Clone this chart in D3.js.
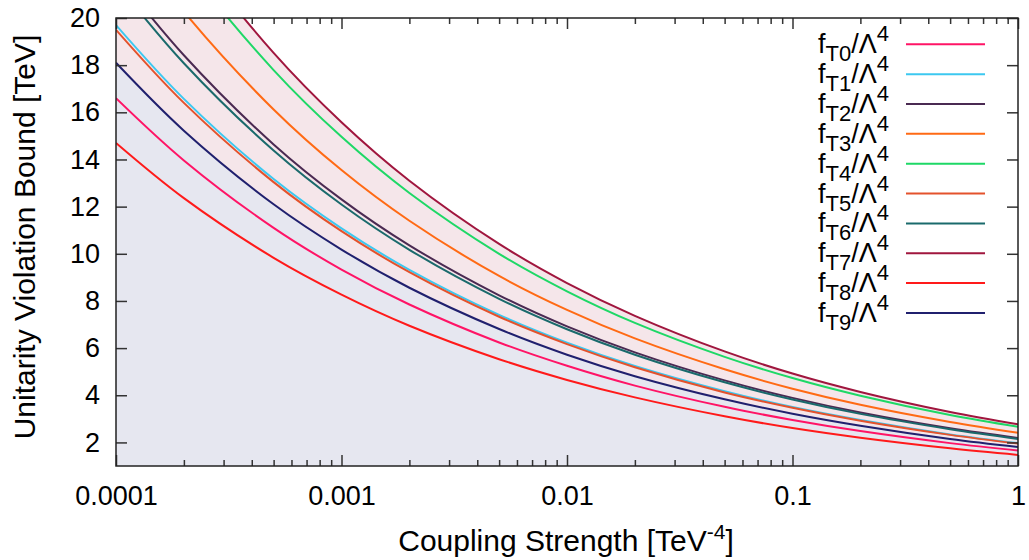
<html>
  <head>
    <style>
      body { margin: 0; background: #fff; }
      text { font-family: "Liberation Sans", Arial, sans-serif; fill: #000; }
    </style>
  </head>
  <body>
    <svg id="container" height="560" width="1029"></svg>
    <script src="https://cdn.jsdelivr.net/npm/d3@7"></script>
    <script>
      // coupling strength sample points [TeV^-4]
      let couplings = [1e-4, 2e-4, 5e-4, 1e-3, 2e-3, 5e-3, 0.01, 0.02, 0.05, 0.1, 0.2, 0.5, 1];

      // unitarity bound [TeV] at the sample points
      let fT0 = [16.60, 13.96, 11.10, 9.33, 7.85, 6.24, 5.25, 4.41, 3.51, 2.95, 2.48, 1.97, 1.66];
      let fT1 = [19.70, 16.57, 13.17, 11.08, 9.32, 7.41, 6.23, 5.24, 4.17, 3.50, 2.95, 2.34, 1.97];
      let fT2 = [21.90, 18.42, 14.64, 12.31, 10.36, 8.24, 6.92, 5.82, 4.63, 3.89, 3.27, 2.60, 2.19];
      let fT3 = [24.10, 20.27, 16.12, 13.55, 11.40, 9.06, 7.62, 6.41, 5.10, 4.28, 3.60, 2.87, 2.41];
      let fT4 = [26.60, 22.37, 17.79, 14.96, 12.58, 10.00, 8.41, 7.07, 5.63, 4.73, 3.98, 3.16, 2.66];
      let fT5 = [19.50, 16.40, 13.04, 10.96, 9.22, 7.33, 6.17, 5.19, 4.12, 3.47, 2.92, 2.32, 1.95];
      let fT6 = [21.50, 18.08, 14.38, 12.09, 10.17, 8.09, 6.80, 5.72, 4.55, 3.82, 3.21, 2.56, 2.15];
      let fT7 = [27.70, 23.29, 18.52, 15.58, 13.10, 10.42, 8.76, 7.37, 5.86, 4.92, 4.14, 3.29, 2.77];
      let fT8 = [14.70, 12.36, 9.83, 8.27, 6.95, 5.53, 4.65, 3.91, 3.11, 2.61, 2.20, 1.75, 1.47];
      let fT9 = [18.10, 15.22, 12.10, 10.18, 8.56, 6.81, 5.72, 4.81, 3.83, 3.22, 2.71, 2.15, 1.81];

      let seriesNames = ["T0", "T1", "T2", "T3", "T4", "T5", "T6", "T7", "T8", "T9"];
      let seriesValues = [fT0, fT1, fT2, fT3, fT4, fT5, fT6, fT7, fT8, fT9];
      let seriesColors = ["#ff1466", "#3cc8f0", "#4a2a52", "#ff6a14", "#1ed866", "#e4522c", "#1a6a6c", "#a0163e", "#ff1a1a", "#20206e"];

      let xTickValues = [1e-4, 1e-3, 1e-2, 1e-1, 1];
      let xTickLabels = ["0.0001", "0.001", "0.01", "0.1", "1"];
      let yTickValues = [2, 4, 6, 8, 10, 12, 14, 16, 18, 20];

      let plotLeft = 116, plotRight = 1018, plotTop = 18, plotBottom = 466;
      let svg = d3.select("#container");

      let x = d3.scaleLog().domain([1e-4, 1]).range([plotLeft, plotRight]);
      let y = d3.scaleLinear().domain([1, 20]).range([plotBottom, plotTop]);

      svg.append("clipPath").attr("id", "plotclip")
        .append("rect")
        .attr("x", plotLeft).attr("y", plotTop)
        .attr("width", plotRight - plotLeft).attr("height", plotBottom - plotTop);

      let plot = svg.append("g").attr("clip-path", "url(#plotclip)");

      let area = (vals) => d3.area()
        .x((d, i) => x(couplings[i]))
        .y0(y(1))
        .y1((d) => y(d))
        .curve(d3.curveCatmullRom)(vals);

      let line = (vals) => d3.line()
        .x((d, i) => x(couplings[i]))
        .y((d) => y(d))
        .curve(d3.curveCatmullRom)(vals);

      // shaded bands: upper envelope pink, lower envelope lavender
      plot.append("path").attr("d", area(fT7)).attr("fill", "#f5e6ea");
      plot.append("path").attr("d", area(fT9)).attr("fill", "#e6e7f0");

      plot.selectAll(".curve")
        .data(seriesValues)
        .enter()
        .append("path")
        .attr("class", "curve")
        .attr("d", (d) => line(d))
        .attr("fill", "none")
        .attr("stroke", (d, i) => seriesColors[i])
        .attr("stroke-width", 2);

      // minor x ticks
      let minor = x.ticks().filter((v) => !xTickValues.some((t) => Math.abs(t - v) < 1e-12));

      let axisStyle = (g) => {
        g.select(".domain").remove();
        g.selectAll(".tick line").attr("stroke", "#333").attr("stroke-width", 1.5);
      };

      svg.append("g").attr("transform", `translate(0,${plotBottom})`)
        .call(d3.axisBottom(x).tickValues(minor).tickSize(-6).tickFormat(""))
        .call(axisStyle);
      svg.append("g").attr("transform", `translate(0,${plotTop})`)
        .call(d3.axisTop(x).tickValues(minor).tickSize(-6).tickFormat(""))
        .call(axisStyle);

      let xAxis = svg.append("g").attr("transform", `translate(0,${plotBottom})`)
        .call(d3.axisBottom(x).tickValues(xTickValues).tickSize(-11).tickPadding(20)
          .tickFormat((d, i) => xTickLabels[i]))
        .call(axisStyle);
      xAxis.selectAll(".tick text").attr("font-size", 27).attr("font-family", null);

      svg.append("g").attr("transform", `translate(0,${plotTop})`)
        .call(d3.axisTop(x).tickValues(xTickValues).tickSize(-11).tickFormat(""))
        .call(axisStyle);

      let yAxis = svg.append("g").attr("transform", `translate(${plotLeft},0)`)
        .call(d3.axisLeft(y).tickValues(yTickValues).tickSize(-11).tickPadding(16))
        .call(axisStyle);
      yAxis.selectAll(".tick text").attr("font-size", 27).attr("font-family", null);

      svg.append("g").attr("transform", `translate(${plotRight},0)`)
        .call(d3.axisRight(y).tickValues(yTickValues).tickSize(-11).tickFormat(""))
        .call(axisStyle);

      // frame
      svg.append("rect")
        .attr("x", plotLeft).attr("y", plotTop)
        .attr("width", plotRight - plotLeft).attr("height", plotBottom - plotTop)
        .attr("fill", "none").attr("stroke", "#222").attr("stroke-width", 1.5);

      // legend
      let legend = svg.append("g");
      seriesNames.forEach((name, i) => {
        let ly = 44.3 + 29.85 * i;
        let t = legend.append("text")
          .attr("x", 889).attr("y", ly + 9)
          .attr("text-anchor", "end")
          .attr("font-size", 27);
        t.append("tspan").text("f");
        t.append("tspan").attr("dy", 8).attr("font-size", 22).text(name);
        t.append("tspan").attr("dy", -8).text("/Λ");
        t.append("tspan").attr("dy", -12).attr("font-size", 22).text("4");
        legend.append("line")
          .attr("x1", 906).attr("x2", 985)
          .attr("y1", ly).attr("y2", ly)
          .attr("stroke", seriesColors[i]).attr("stroke-width", 2);
      });

      // axis titles
      svg.append("text")
        .attr("transform", "translate(35,237) rotate(-90)")
        .attr("text-anchor", "middle")
        .attr("font-size", 30)
        .text("Unitarity Violation Bound [TeV]");

      let xt = svg.append("text")
        .attr("x", 566).attr("y", 551)
        .attr("text-anchor", "middle")
        .attr("font-size", 30);
      xt.append("tspan").text("Coupling Strength [TeV");
      xt.append("tspan").attr("dy", -12).attr("font-size", 21).text("-4");
      xt.append("tspan").attr("dy", 12).text("]");
    </script>
  </body>
</html>
